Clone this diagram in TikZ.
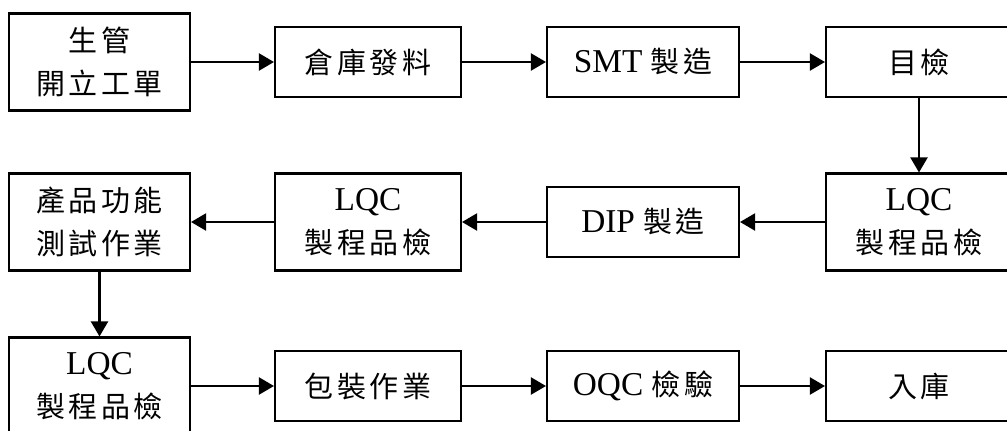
\documentclass[tikz,border=0pt]{standalone}
\usepackage{fontspec}
\setmainfont{Liberation Serif}[Scale=1.15]
\newfontfamily\cjk[LetterSpace=12]{Noto Sans CJK TC}
\usetikzlibrary{arrows.meta}

\begin{document}
\begin{tikzpicture}[x=0.02cm, y=-0.02cm,
  box/.style={draw, line width=1.2pt, minimum height=1.4cm, inner sep=0pt,
    align=center, font=\fontsize{16.5}{24.5}\selectfont},
  tallbox/.style={box, minimum height=1.94cm},
  flow/.style={line width=1.2pt, -{Triangle[length=0.3cm, width=0.34cm]}}]

% Page size of the reference
\useasboundingbox (0,0) rectangle (1007,430);

% Row 1
\node[tallbox, minimum width=3.62cm] (order) at (99.5,62) {{\cjk 生管}\\{\cjk 開立工單}};
\node[box, minimum width=3.72cm] (issue) at (368,62) {\cjk 倉庫發料};
\node[box, minimum width=3.84cm] (smt) at (643,62) {SMT {\cjk 製造}};
\node[box, minimum width=3.72cm] (visual) at (919,62) {\cjk 目檢};

% Row 2
\node[tallbox, minimum width=3.72cm] (lqcA) at (919,222) {LQC\\{\cjk 製程品檢}};
\node[box, minimum width=3.84cm] (dip) at (643,222) {DIP {\cjk 製造}};
\node[tallbox, minimum width=3.72cm] (lqcB) at (368,222) {LQC\\{\cjk 製程品檢}};
\node[tallbox, minimum width=3.62cm] (test) at (99.5,222) {{\cjk 產品功能}\\{\cjk 測試作業}};

% Row 3
\node[tallbox, minimum width=3.62cm] (lqcC) at (99.5,386) {LQC\\{\cjk 製程品檢}};
\node[box, minimum width=3.72cm] (pack) at (368,386) {\cjk 包裝作業};
\node[box, minimum width=3.84cm] (oqc) at (643,386) {OQC {\cjk 檢驗}};
\node[box, minimum width=3.72cm] (stock) at (919,386) {\cjk 入庫};

% Connectors
\draw[flow] (order) -- (issue);
\draw[flow] (issue) -- (smt);
\draw[flow] (smt) -- (visual);
\draw[flow] (visual) -- (lqcA);
\draw[flow] (lqcA) -- (dip);
\draw[flow] (dip) -- (lqcB);
\draw[flow] (lqcB) -- (test);
\draw[flow] (test) -- (lqcC);
\draw[flow] (lqcC) -- (pack);
\draw[flow] (pack) -- (oqc);
\draw[flow] (oqc) -- (stock);

\end{tikzpicture}
\end{document}
